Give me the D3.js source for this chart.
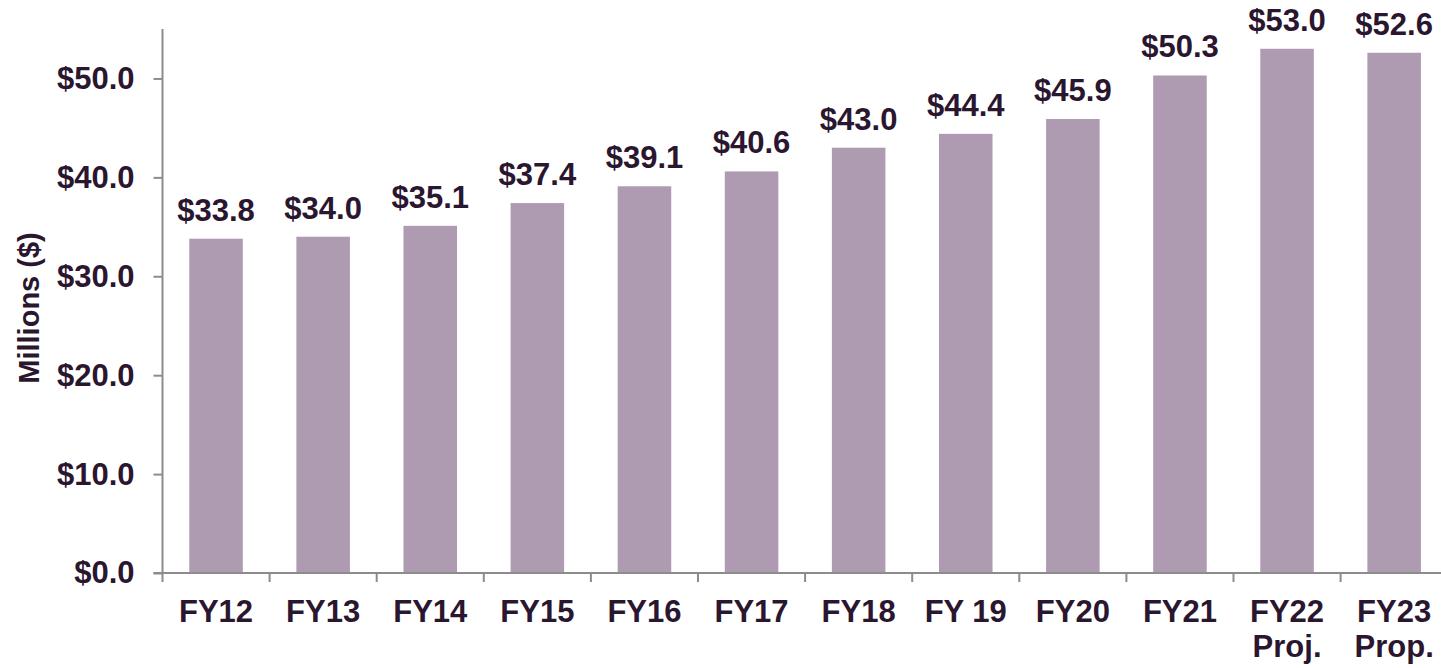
<!DOCTYPE html>
<html>
<head>
<meta charset="utf-8">
<script src="https://cdn.jsdelivr.net/npm/d3@7"></script>
<style>
  body { margin: 0; background: #fff; }
  text { font-family: "Liberation Sans", Arial, sans-serif; font-weight: bold; fill: #2b1630; }
</style>
</head>
<body>
<div id="chart"></div>
<script>
// chart data
const categories = ["FY12", "FY13", "FY14", "FY15", "FY16", "FY17", "FY18", "FY 19", "FY20", "FY21", "FY22\nProj.", "FY23\nProp."];
const values = [33.8, 34.0, 35.1, 37.4, 39.1, 40.6, 43.0, 44.4, 45.9, 50.3, 53.0, 52.6];
const yTicks = [0, 10, 20, 30, 40, 50];

const width = 1441;
const height = 668;
const margin = { top: 29, left: 162.5, bottom: 95 };

const svg = d3.select("#chart")
    .append("svg")
    .attr("width", width)
    .attr("height", height);

const x = d3.scaleBand()
    .domain(categories)
    .range([margin.left, margin.left + 12 * 107.1])
    .paddingInner(0.5)
    .paddingOuter(0.25);

const y = d3.scaleLinear()
    .domain([0, 55])
    .range([height - margin.bottom, margin.top]);

// bars
svg.append("g")
    .selectAll("rect")
    .data(values)
    .enter()
    .append("rect")
    .attr("x", (d, i) => x(categories[i]))
    .attr("y", d => y(d))
    .attr("width", x.bandwidth())
    .attr("height", d => y(0) - y(d))
    .attr("fill", "#ae9bb1");

// value labels
svg.append("g")
    .selectAll("text")
    .data(values)
    .enter()
    .append("text")
    .attr("x", (d, i) => x(categories[i]) + x.bandwidth() / 2)
    .attr("y", d => y(d) - 18)
    .attr("text-anchor", "middle")
    .style("font-size", "31px")
    .text(d => "$" + d.toFixed(1));

// y axis
const yAxis = svg.append("g")
    .attr("transform", `translate(${margin.left},0)`)
    .call(d3.axisLeft(y).tickValues(yTicks).tickSize(9).tickPadding(19).tickFormat(d => "$" + d.toFixed(1)));
yAxis.select(".domain").attr("d", `M-0,${y(55)}V${y(0)}`);

// x axis, ticks sit on the band edges
const xAxis = svg.append("g")
    .attr("transform", `translate(0,${y(0)})`);
xAxis.append("line")
    .attr("x1", margin.left - 9)
    .attr("x2", width)
    .attr("stroke", "#8c8c8c")
    .attr("stroke-width", 2);
xAxis.selectAll(".sep")
    .data(categories)
    .enter()
    .append("line")
    .attr("class", "sep")
    .attr("x1", d => x(d) - x.step() * 0.25)
    .attr("x2", d => x(d) - x.step() * 0.25)
    .attr("y1", 0)
    .attr("y2", 9)
    .attr("stroke", "#8c8c8c")
    .attr("stroke-width", 2);

const xLabels = xAxis.selectAll(".xlab")
    .data(categories)
    .enter()
    .append("text")
    .attr("class", "xlab")
    .attr("text-anchor", "middle")
    .attr("transform", d => `translate(${x(d) + x.bandwidth() / 2},49)`)
    .style("font-size", "31px");
xLabels.selectAll("tspan")
    .data(d => d.split("\n"))
    .enter()
    .append("tspan")
    .attr("x", 0)
    .attr("y", (d, i) => i * 35)
    .text(d => d);

yAxis.selectAll("text").style("font-size", "31px").attr("fill", "#2b1630");
yAxis.selectAll("line").attr("stroke", "#8c8c8c").attr("stroke-width", 2);
yAxis.select(".domain").attr("stroke", "#8c8c8c").attr("stroke-width", 2);

// y axis title
svg.append("text")
    .attr("transform", `translate(39,308) rotate(-90)`)
    .attr("text-anchor", "middle")
    .style("font-size", "29px")
    .text("Millions ($)");
</script>
</body>
</html>
